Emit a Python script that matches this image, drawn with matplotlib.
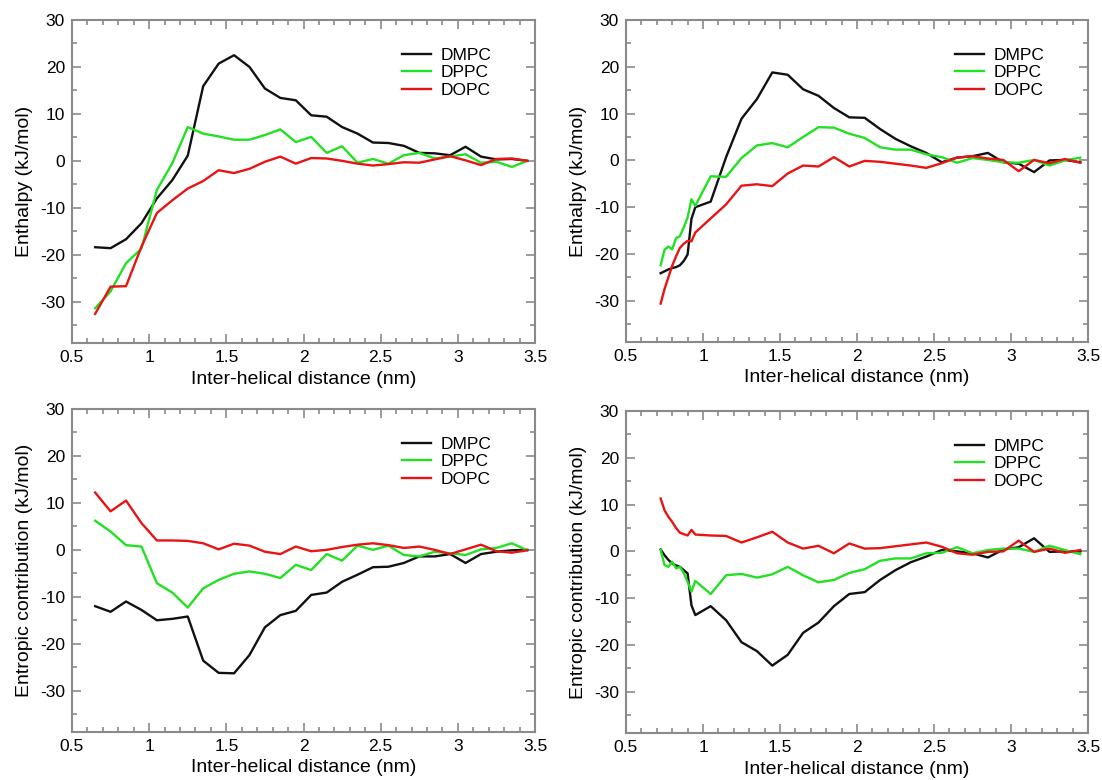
import matplotlib
matplotlib.use("Agg")
import matplotlib.pyplot as plt
from matplotlib.ticker import MultipleLocator

plt.rcParams['font.family'] = ['Liberation Sans', 'DejaVu Sans']
plt.rcParams['axes.unicode_minus'] = False

# ---------------- data ----------------
lipids = ["DMPC", "DPPC", "DOPC"]
colors = ["#111111", "#22e022", "#e81414"]

x_left = [0.65, 0.75, 0.85, 0.95, 1.05, 1.15, 1.25, 1.35, 1.45, 1.55, 1.65, 1.75, 1.85, 1.95,
          2.05, 2.15, 2.25, 2.35, 2.45, 2.55, 2.65, 2.75, 2.85, 2.95, 3.05, 3.15, 3.25, 3.35, 3.45]
x_right = [0.725, 0.75, 0.775, 0.8, 0.825, 0.85, 0.875, 0.9, 0.925, 0.95, 1.05, 1.15, 1.25, 1.35,
           1.45, 1.55, 1.65, 1.75, 1.85, 1.95, 2.05, 2.15, 2.25, 2.35, 2.45, 2.55, 2.65, 2.75,
           2.85, 2.95, 3.05, 3.15, 3.25, 3.35, 3.45]

tl_dmpc = [-18.4, -18.6, -16.7, -13.3, -8.0, -4.1, 1.1, 15.9, 20.7, 22.5, 20.0, 15.4, 13.4, 12.9,
           9.7, 9.4, 7.2, 5.8, 3.9, 3.8, 3.2, 1.7, 1.6, 1.2, 3.0, 0.9, 0.3, 0.4, 0.0]
tl_dppc = [-31.4, -27.8, -21.8, -18.7, -6.2, -0.5, 7.2, 5.8, 5.2, 4.5, 4.5, 5.5, 6.7, 4.0,
           5.1, 1.7, 3.1, -0.4, 0.4, -0.6, 1.2, 1.7, 0.5, 0.9, 1.4, -0.4, -0.2, -1.3, 0.0]
tl_dopc = [-32.6, -26.8, -26.7, -18.3, -11.1, -8.4, -5.9, -4.3, -2.0, -2.6, -1.7, -0.2, 0.9, -0.6,
           0.6, 0.5, 0.0, -0.6, -1.0, -0.7, -0.3, -0.4, 0.3, 1.0, 0.1, -0.9, 0.4, 0.5, 0.0]

tr_dmpc = [-24.1, -23.7, -23.3, -23.0, -22.8, -22.4, -21.5, -20.1, -12.5, -10.0, -8.8, 0.7, 8.9, 13.1,
           18.8, 18.3, 15.2, 13.8, 11.2, 9.2, 9.1, 6.7, 4.6, 3.0, 1.6, -0.4, 0.6, 0.9,
           1.6, -0.4, -0.7, -2.5, 0.0, 0.1, -0.4]
tr_dppc = [-22.4, -19.1, -18.4, -19.0, -16.6, -16.2, -14.3, -12.2, -8.3, -9.7, -3.4, -3.5, 0.5, 3.2,
           3.7, 2.8, 5.0, 7.1, 7.0, 5.7, 4.8, 2.8, 2.3, 2.3, 1.3, 0.7, -0.5, 0.5,
           0.1, -0.4, -0.5, 0.1, -1.1, 0.0, 0.6]
tr_dopc = [-30.6, -27.5, -25.0, -22.5, -20.5, -18.7, -17.8, -17.2, -17.3, -15.4, -12.4, -9.4, -5.4, -5.1,
           -5.5, -2.8, -1.1, -1.3, 0.7, -1.3, -0.1, -0.3, -0.7, -1.1, -1.6, -0.6, 0.6, 0.9,
           0.4, 0.1, -2.3, 0.1, -0.6, 0.3, -0.5]

bl_dmpc = [-12.0, -13.2, -11.0, -12.8, -15.0, -14.7, -14.2, -23.6, -26.2, -26.3, -22.4, -16.5, -13.9, -13.0,
           -9.6, -9.1, -6.8, -5.3, -3.7, -3.6, -2.8, -1.4, -1.4, -0.9, -2.8, -0.9, -0.4, -0.1, 0.0]
bl_dppc = [6.2, 3.9, 1.0, 0.7, -7.1, -9.1, -12.3, -8.2, -6.4, -5.1, -4.6, -5.1, -6.0, -3.2,
           -4.3, -0.9, -2.3, 0.9, 0.0, 0.9, -1.1, -1.4, -0.4, -0.7, -1.1, 0.1, 0.4, 1.4, -0.1]
bl_dopc = [12.2, 8.2, 10.5, 5.7, 2.0, 2.0, 1.9, 1.4, 0.1, 1.3, 0.9, -0.4, -0.9, 0.7,
           -0.3, 0.0, 0.6, 1.1, 1.4, 1.0, 0.4, 0.7, 0.0, -0.9, 0.1, 1.1, -0.3, -0.6, -0.1]

br_dmpc = [0.4, -0.8, -1.8, -2.6, -3.0, -3.3, -4.0, -4.7, -11.5, -13.6, -11.7, -14.7, -19.4, -21.3,
           -24.4, -22.1, -17.4, -15.2, -11.7, -9.1, -8.7, -6.1, -4.0, -2.3, -1.1, 0.3, 0.0, -0.4,
           -1.3, 0.4, 0.9, 2.8, -0.1, 0.0, 0.0]
br_dppc = [0.3, -2.9, -3.3, -2.2, -3.6, -3.3, -4.6, -6.5, -8.6, -6.3, -9.1, -5.1, -4.8, -5.6,
           -4.9, -3.3, -5.1, -6.6, -6.1, -4.6, -3.8, -2.0, -1.5, -1.5, -0.4, -0.3, 0.9, -0.4,
           0.3, 0.6, 0.6, -0.1, 1.2, 0.3, -0.6]
br_dopc = [11.3, 8.8, 7.4, 6.3, 5.0, 4.0, 3.7, 3.4, 4.6, 3.6, 3.4, 3.3, 1.9, 3.0,
           4.2, 1.9, 0.6, 1.2, -0.4, 1.7, 0.6, 0.7, 1.1, 1.5, 1.9, 1.0, -0.4, -0.7,
           -0.1, 0.0, 2.3, -0.1, 0.6, -0.3, 0.3]

xlabel = "Inter-helical distance (nm)"
ylabel_top = "Enthalpy (kJ/mol)"
ylabel_bottom = "Entropic contribution (kJ/mol)"
x_ticks = [0.5, 1, 1.5, 2, 2.5, 3, 3.5]
x_ticklabels = ["0.5", "1", "1.5", "2", "2.5", "3", "3.5"]
y_ticks = [-30, -20, -10, 0, 10, 20, 30]

# ---------------- figure ----------------
W, H = 1102, 780
fig = plt.figure(figsize=(W / 100, H / 100), dpi=100)

def px_axes(l, t, r, b):
    return fig.add_axes([l / W, 1 - b / H, (r - l) / W, (b - t) / H])

panels = [
    (px_axes(72, 20, 535, 343), x_left, [tl_dmpc, tl_dppc, tl_dopc], ylabel_top),
    (px_axes(626, 20, 1088, 342), x_right, [tr_dmpc, tr_dppc, tr_dopc], ylabel_top),
    (px_axes(72, 409, 535, 732), x_left, [bl_dmpc, bl_dppc, bl_dopc], ylabel_bottom),
    (px_axes(626, 411, 1088, 733), x_right, [br_dmpc, br_dppc, br_dopc], ylabel_bottom),
]

frame_col = "#8a8a8a"
for ax, xs, series, ylab in panels:
    for name, col, ys in zip(lipids, colors, series):
        ax.plot(xs, ys, color=col, lw=1.7, label=name, solid_joinstyle='round')
    ax.set_xlim(0.5, 3.5)
    ax.set_ylim(-38.8, 30)
    ax.set_xticks(x_ticks)
    ax.set_xticklabels(x_ticklabels)
    ax.set_yticks(y_ticks)
    ax.xaxis.set_minor_locator(MultipleLocator(0.1))
    ax.yaxis.set_minor_locator(MultipleLocator(5))
    ax.tick_params(which='both', direction='in', top=True, right=True, color=frame_col,
                   width=1.2, labelsize=12.5, labelcolor='black')
    ax.tick_params(which='major', length=6.5, pad=5)
    ax.tick_params(which='minor', length=3.5)
    for s in ax.spines.values():
        s.set_color(frame_col)
        s.set_linewidth(1.5)
    ax.set_xlabel(xlabel, fontsize=14, labelpad=4)
    ax.set_ylabel(ylab, fontsize=14, labelpad=5)
    ax.legend(loc='upper left', bbox_to_anchor=(0.713, 0.913), frameon=False, fontsize=12.5,
              handlelength=1.65, handletextpad=0.55, labelspacing=0.12, borderpad=0,
              borderaxespad=0)

fig.savefig("out.png", dpi=100, facecolor='white')
